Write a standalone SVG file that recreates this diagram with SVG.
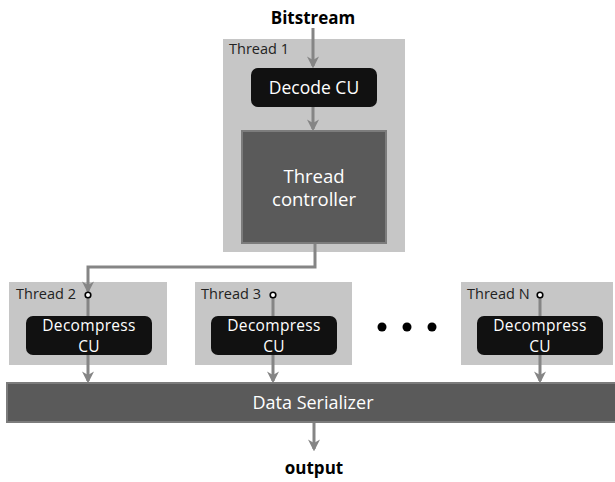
<svg xmlns="http://www.w3.org/2000/svg" width="615" height="482" viewBox="0 0 615 482">
<style>
.thr{fill:#c6c6c6}
.blk{fill:#111;}
.dark{fill:#5a5a5a;stroke:#7c7c7c;stroke-width:2}
.lbl{font-family:"Open Sans","Noto Sans",sans-serif;font-size:14.5px;fill:#222}
.wt{font-family:"Open Sans","Noto Sans",sans-serif;fill:#fff;text-anchor:middle}
.dc{font-size:15.5px;letter-spacing:0.3px}
.bold{font-family:"Open Sans","Noto Sans",sans-serif;font-weight:bold;font-size:17px;fill:#000;text-anchor:middle}
.ln{fill:none;stroke:#858585;stroke-width:3}
.pt{fill:#fff;stroke:#000;stroke-width:1.6}
</style>
<defs>
<marker id="ah" viewBox="0 0 10 10" refX="8" refY="5" markerWidth="4" markerHeight="4" orient="auto" markerUnits="strokeWidth">
<path d="M0,0 L10,5 L0,10 L3,5 Z" fill="#858585"/>
</marker>
</defs>
<rect width="615" height="482" fill="#fff"/>
<g id="bitstream"><text class="bold" x="313" y="24">Bitstream</text></g>
<g id="thread1">
<rect class="thr" x="223" y="39" width="182" height="213"/>
<text class="lbl" x="229" y="54">Thread 1</text>
</g>
<g id="thread2">
<rect class="thr" x="9" y="282" width="158" height="83"/>
<text class="lbl" x="16" y="299">Thread 2</text>
</g>
<g id="thread3">
<rect class="thr" x="195" y="282" width="157" height="83"/>
<text class="lbl" x="201" y="299">Thread 3</text>
</g>
<g id="threadN">
<rect class="thr" x="461" y="282" width="152" height="83"/>
<text class="lbl" x="467" y="299">Thread N</text>
</g>
<g id="connectors">
<line class="ln" x1="313" y1="28" x2="313" y2="66" marker-end="url(#ah)"/>
<line class="ln" x1="313" y1="107" x2="313" y2="129" marker-end="url(#ah)"/>
<polyline class="ln" points="315,243 315,267 88,267 88,291" marker-end="url(#ah)"/>
<line class="ln" x1="88" y1="298" x2="88" y2="381" marker-end="url(#ah)"/>
<line class="ln" x1="273" y1="298" x2="273" y2="381" marker-end="url(#ah)"/>
<line class="ln" x1="540" y1="298" x2="540" y2="381" marker-end="url(#ah)"/>
<line class="ln" x1="314" y1="423" x2="314" y2="449" marker-end="url(#ah)"/>
</g>
<g id="decodeCU">
<rect class="blk" x="251" y="68" width="126" height="39" rx="7"/>
<text class="wt" x="314" y="94" font-size="17.5">Decode CU</text>
</g>
<g id="controller">
<rect class="dark" x="242" y="131" width="144" height="112"/>
<text class="wt" font-size="18.5"><tspan x="314" y="183">Thread</tspan><tspan x="314" y="206">controller</tspan></text>
</g>
<g id="dec2">
<rect class="blk" x="26" y="316" width="126" height="39" rx="7"/>
<text class="wt dc" x="89" y="331">Decompress</text>
<text class="wt dc" x="89" y="352">CU</text>
</g>
<g id="dec3">
<rect class="blk" x="211" y="316" width="126" height="39" rx="7"/>
<text class="wt dc" x="274" y="331">Decompress</text>
<text class="wt dc" x="274" y="352">CU</text>
</g>
<g id="decN">
<rect class="blk" x="477" y="316" width="126" height="39" rx="7"/>
<text class="wt dc" x="540" y="331">Decompress</text>
<text class="wt dc" x="540" y="352">CU</text>
</g>
<g id="points">
<circle class="pt" cx="88" cy="295" r="2.8"/>
<circle class="pt" cx="273" cy="295" r="2.8"/>
<circle class="pt" cx="540" cy="295" r="2.8"/>
</g>
<g id="ellipsis">
<circle cx="382" cy="327" r="4.5" fill="#000"/>
<circle cx="407" cy="327" r="4.5" fill="#000"/>
<circle cx="432" cy="327" r="4.5" fill="#000"/>
</g>
<g id="serializer">
<rect class="dark" x="7" y="383" width="610" height="39"/>
<text class="wt" x="313" y="409" font-size="18">Data Serializer</text>
</g>
<g id="output"><text class="bold" x="314" y="474">output</text></g>
</svg>
